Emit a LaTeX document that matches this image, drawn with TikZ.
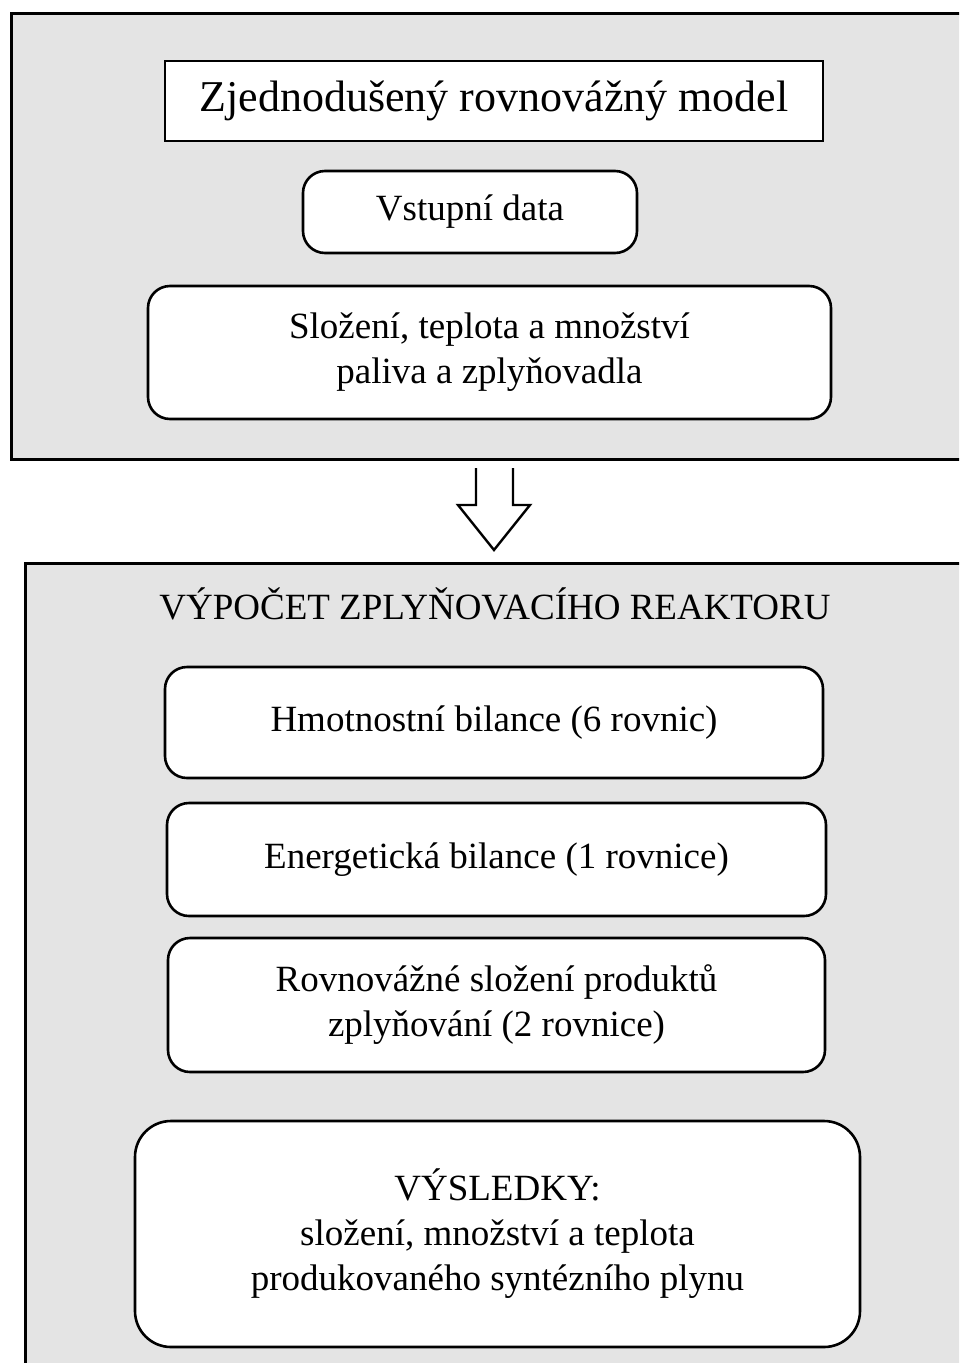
\documentclass[tikz,border=0pt]{standalone}
\usepackage{fontspec}
\setmainfont{Liberation Serif}
\usetikzlibrary{positioning}
\definecolor{panelgray}{RGB}{228,228,228}

\begin{document}
\begin{tikzpicture}[x=1pt, y=-1pt,
    panel/.style={draw, line width=2.6pt, fill=panelgray, anchor=north west},
    plainbox/.style={draw, line width=2.6pt, fill=white, align=center,
                     font=\fontsize{37}{45}\selectfont},
    roundbox/.style={plainbox, rounded corners=22pt},
    blockarrow/.style={draw, line width=2.4pt, fill=white, line join=miter}
]
    \useasboundingbox (0,0) rectangle (959,1363);
    \clip (0,0) rectangle (959,1363);

    % --- Input panel ---
    \node[panel, minimum width=970pt, minimum height=446pt] (inpanel) at (10,12) {};
    \node[plainbox, minimum width=658pt, minimum height=80pt,
          font=\fontsize{44}{52}\selectfont] (title) at (494,101) {Zjednodušený rovnovážný model};
    \node[roundbox, minimum width=334pt, minimum height=82pt] (input) at (470,212) {Vstupní data};
    \node[roundbox, minimum width=683pt, minimum height=133pt] (fuel) at (489.5,352.5)
        {Složení, teplota a množství\\paliva a zplyňovadla};

    % --- Calculation panel ---
    \node[panel, minimum width=960pt, minimum height=830pt] (calcpanel) at (24,562) {};
    \node[font=\fontsize{37}{45}\selectfont] (heading) at (495,604) {VÝPOČET ZPLYŇOVACÍHO REAKTORU};
    \node[roundbox, minimum width=658pt, minimum height=111pt] (mass) at (494,722.5)
        {Hmotnostní bilance (6 rovnic)};
    \node[roundbox, minimum width=659pt, minimum height=113pt] (energy) at (496.5,859.5)
        {Energetická bilance (1 rovnice)};
    \node[roundbox, minimum width=657pt, minimum height=134pt] (equil) at (496.5,1005)
        {Rovnovážné složení produktů\\zplyňování (2 rovnice)};
    \node[roundbox, rounded corners=36pt, minimum width=725pt, minimum height=226pt] (results) at (497.5,1234)
        {VÝSLEDKY:\\složení, množství a teplota\\produkovaného syntézního plynu};

    % --- Block arrow between the panels ---
    \coordinate (arrowtop) at (494.5,468);
    \coordinate (arrowtip) at (494,550);
    \draw[blockarrow] ([xshift=-18.5pt]arrowtop) -- ++(0,37) -- ++(-18,0)
        -- (arrowtip) -- ([xshift=36pt, yshift=45pt]arrowtip) -- ++(-17,0)
        -- ([xshift=18.5pt]arrowtop);
\end{tikzpicture}
\end{document}
